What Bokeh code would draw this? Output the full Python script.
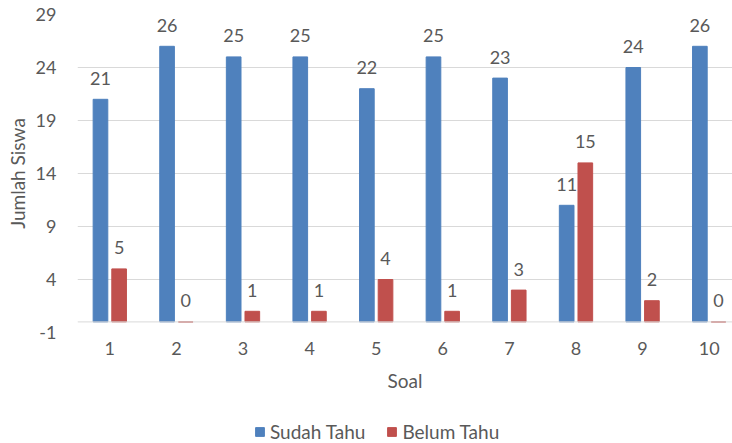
from bokeh.plotting import figure
from bokeh.models import Range1d, FixedTicker, Span, Legend, LegendItem, ColumnDataSource
from bokeh.layouts import column
from bokeh.core.properties import value
from bokeh.embed import file_html
from bokeh.resources import INLINE

soal = [1, 2, 3, 4, 5, 6, 7, 8, 9, 10]
sudah_tahu = [21, 26, 25, 25, 22, 25, 23, 11, 24, 26]
belum_tahu = [5, 0, 1, 1, 4, 1, 3, 15, 2, 0]
y_ticks = [-1, 4, 9, 14, 19, 24, 29]
series_names = ["Sudah Tahu", "Belum Tahu"]

FONT = "Lato"
TXT = "#595959"
BLUE = "#4f81bd"
RED = "#c0504d"
OFF = 0.14
W = 0.22

p = figure(width=732, height=400, output_backend="svg", toolbar_location=None,
           x_range=Range1d(0.515, 10.35), y_range=Range1d(-1, 29),
           min_border_left=77, min_border_top=14, min_border_bottom=68, min_border_right=0)
p.outline_line_color = None
p.background_fill_color = "white"
p.border_fill_color = "white"

src_b = ColumnDataSource(dict(x=[s - OFF for s in soal], top=sudah_tahu, lab=[str(v) for v in sudah_tahu]))
src_r = ColumnDataSource(dict(x=[s + OFF for s in soal], top=belum_tahu, lab=[str(v) for v in belum_tahu]))

p.add_layout(Span(location=0, dimension="width", line_color="#d9d9d9", line_width=1))

rb = p.vbar(x="x", top="top", bottom=0, width=W, source=src_b, fill_color=BLUE, line_color=BLUE)
rr = p.vbar(x="x", top="top", bottom=0, width=W, source=src_r, fill_color=RED, line_color=RED)

for src in (src_b, src_r):
    p.text(x="x", y="top", text="lab", source=src, text_align="center", text_baseline="alphabetic",
           y_offset=-21, text_font=value(FONT), text_font_size="18px", text_color=TXT)

# axes
p.yaxis.ticker = FixedTicker(ticks=y_ticks)
p.yaxis.major_label_overrides = {t: str(t) for t in y_ticks}
p.xaxis.ticker = FixedTicker(ticks=soal)
for ax in (p.xaxis, p.yaxis):
    ax.axis_line_color = None
    ax.major_tick_line_color = None
    ax.minor_tick_line_color = None
    ax.major_label_text_font = FONT
    ax.major_label_text_font_size = "18px"
    ax.major_label_text_color = TXT
    ax.axis_label_text_font = FONT
    ax.axis_label_text_font_size = "19px"
    ax.axis_label_text_font_style = "normal"
    ax.axis_label_text_color = TXT
p.yaxis.axis_label = "Jumlah Siswa"
p.xaxis.axis_label = "Soal"
p.yaxis.major_label_standoff = 15
p.yaxis.axis_label_standoff = 4
p.xaxis.major_label_standoff = 3
p.xaxis.axis_label_standoff = 11

p.xgrid.grid_line_color = None
p.ygrid.grid_line_color = "#d9d9d9"
p.ygrid.grid_line_width = 1

# legend strip below the chart
lg = figure(width=732, height=43, output_backend="svg", toolbar_location=None,
            x_range=Range1d(0, 1), y_range=Range1d(0, 1),
            x_axis_location=None, y_axis_location=None,
            min_border_left=0, min_border_right=0, min_border_top=0, min_border_bottom=0)
lg.grid.visible = False
lg.outline_line_color = None
lb = lg.vbar(x=[5], top=[-5], bottom=[-6], width=0.1, fill_color=BLUE, line_color=BLUE)
lr = lg.vbar(x=[5], top=[-5], bottom=[-6], width=0.1, fill_color=RED, line_color=RED)
legend = Legend(items=[LegendItem(label=series_names[0], renderers=[lb]),
                       LegendItem(label=series_names[1], renderers=[lr])],
                orientation="horizontal", location=(177, 0))
legend.label_text_font = FONT
legend.label_text_font_size = "19px"
legend.label_text_color = TXT
legend.label_height = 16
legend.glyph_width = 11
legend.glyph_height = 11
legend.label_standoff = 5
legend.spacing = 21
legend.padding = 0
legend.margin = 0
legend.border_line_color = None
legend.background_fill_alpha = 0
lg.add_layout(legend)

open("out.html", "w").write(file_html(column(p, lg), INLINE))
